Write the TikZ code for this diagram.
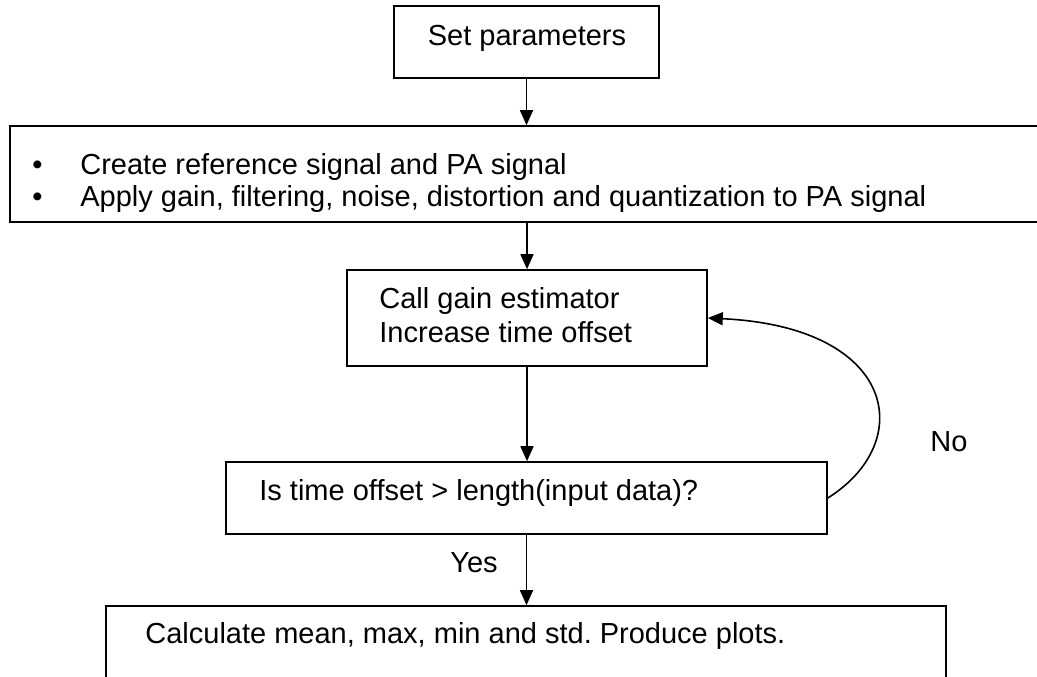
\documentclass[tikz,border=0pt]{standalone}
\usepackage{fontspec}
\setmainfont{Liberation Sans}
\usetikzlibrary{arrows.meta}
\frenchspacing
\begin{document}
\begin{tikzpicture}[
        x=0.5pt, y=-0.5pt,
        box/.style={
            draw=black,
            line width=0.8pt,
            rectangle,
            inner sep=0pt
        },
        txt/.style={
            inner sep=0pt,
            font=\fontsize{14.5}{16.5}\selectfont
        },
        arrow/.style={
            -{Triangle[length=7.5pt,width=6.5pt]},
            line width=0.8pt
        }
    ]

    \clip (0,0) rectangle (1037,676);

    \node[box, minimum width=132.5pt, minimum height=36pt] (param) at (526.5,42) {};
    \node[box, minimum width=520pt, minimum height=48pt] (signal) at (530,174) {};
    \node[box, minimum width=180pt, minimum height=48pt] (gain) at (527,318) {};
    \node[box, minimum width=300.5pt, minimum height=36pt] (check) at (526.5,498) {};
    \node[box, minimum width=420pt, minimum height=57pt] (stats) at (526,663) {};

    \node[txt, anchor=base] (paramtxt) at (527,45) {Set parameters};
    \node[txt, anchor=base west] (sigtxt1) at (32,174) {\makebox[24pt][l]{•}Create reference signal and PA signal};
    \node[txt, anchor=base west] (sigtxt2) at (32,206) {\makebox[24pt][l]{•}Apply gain, filtering, noise, distortion and quantization to PA signal};
    \node[txt, anchor=base west] (gaintxt1) at (379,308) {Call gain estimator};
    \node[txt, anchor=base west] (gaintxt2) at (379,342) {Increase time offset};
    \node[txt, anchor=base west] (checktxt) at (259,500) {Is time offset > length(input data)?};
    \node[txt, anchor=base west] (statstxt) at (145,643) {Calculate mean, max, min and std. Produce plots.};
    \node[txt, anchor=base east] (yes) at (498,572) {Yes};
    \node[txt, anchor=base west] (no) at (930,451) {No};

    \draw[arrow] (param.south) -- (param.south |- signal.north);
    \draw[arrow] (gain.north |- signal.south) -- (gain.north);
    \draw[arrow] (gain.south) -- (gain.south |- check.north);
    \draw[arrow] (check.south) -- (check.south |- stats.north);
    % loop back when the offset is still short
    \draw[arrow] (check.east) .. controls (917,442) and (897,327) .. (gain.east);
\end{tikzpicture}
\end{document}
